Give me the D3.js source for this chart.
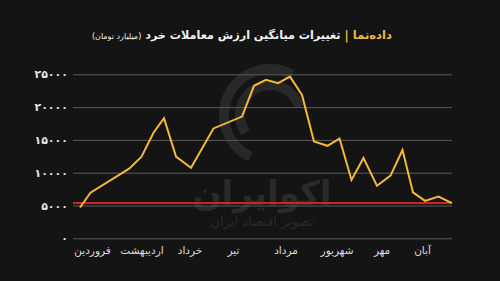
<!DOCTYPE html>
<html>
<head>
<meta charset="utf-8">
<script src="https://cdn.jsdelivr.net/npm/d3@7"></script>
<style>
  html, body { margin: 0; padding: 0; background: #141414; }
  #wrap { position: relative; width: 500px; height: 281px; overflow: hidden; background: #141414; }
  #title { position: absolute; right: 108px; top: 28px; direction: rtl; white-space: nowrap;
           font-family: "DejaVu Sans", sans-serif; font-size: 11.2px; font-weight: bold; color: #f2f2f2; }
  #title .brand { color: #e9b949; font-weight: bold; font-size: 11.6px; }
  #title .unit { font-size: 8px; font-weight: normal; }
</style>
</head>
<body>
<div id="wrap">
  <svg id="chart" width="500" height="281"></svg>
  <div id="title"><span class="brand">داده‌نما | </span>تغییرات میانگین ارزش معاملات خرد <span class="unit">(میلیارد تومان)</span></div>
</div>
<script>
// Data (day index from start of Farvardin, value in billion toman)
const days   = [0, 7, 33, 41, 49, 56, 64, 74, 89, 108, 116, 124, 132, 140, 148, 156, 165, 173, 181, 189, 198, 207, 215, 222, 230, 239, 248];
const values = [4700, 6950, 10650, 12450, 16100, 18300, 12450, 10750, 16750, 18550, 23250, 24150, 23650, 24650, 21850, 14750, 14100, 15200, 8900, 12250, 8000, 9550, 13450, 7000, 5700, 6350, 5350];
const months    = ["فروردین", "اردیبهشت", "خرداد", "تیر", "مرداد", "شهریور", "مهر", "آبان"];
const monthDays = [8, 41, 73, 102, 137, 171, 201, 228];
const yTicks = [0, 5000, 10000, 15000, 20000, 25000];
const refValue = 5400;

const toFa = s => String(s).replace(/\d/g, d => "۰۱۲۳۴۵۶۷۸۹"[d]);

const svg = d3.select("#chart");
const x = d3.scaleLinear().domain([0, 248]).range([80, 452]);
const y = d3.scaleLinear().domain([0, 25000]).range([238.3, 74.3]);
const gridX0 = 73, gridX1 = 452;

// watermark
const wm = svg.append("g").attr("fill", "#2a2a2a").attr("font-family", "DejaVu Sans, sans-serif")
  .attr("text-anchor", "middle");
wm.append("text").attr("x", 262).attr("y", 205).attr("font-size", 34).attr("font-weight", "bold").text("اکوایران");
wm.append("text").attr("x", 262).attr("y", 226).attr("font-size", 13).text("تصویر اقتصاد ایران");
const arc = d3.arc();
const lg = svg.append("g").attr("transform", "translate(270,115)").attr("fill", "none").attr("stroke", "#282828").attr("stroke-width", 10);
lg.append("path").attr("d", arc({innerRadius: 46, outerRadius: 46, startAngle: -2.7, endAngle: 0.5}));
lg.append("path").attr("d", arc({innerRadius: 30, outerRadius: 30, startAngle: -2.2, endAngle: 1.3}));

// y axis (gridlines + labels)
const yAxis = d3.axisLeft(y).tickValues(yTicks).tickSize(-(gridX1 - gridX0)).tickPadding(5)
  .tickFormat(d => toFa(d));
const gy = svg.append("g").attr("transform", `translate(${gridX0},0)`).call(yAxis);
gy.select(".domain").remove();
gy.selectAll(".tick line").attr("stroke", "#5a5a5a").attr("stroke-width", 1);
gy.selectAll(".tick text").attr("fill", "#e6e6e6").attr("font-size", 11).attr("font-weight", "bold")
  .attr("font-family", "DejaVu Sans, sans-serif");

// x axis month labels
const xAxis = d3.axisBottom(x).tickValues(monthDays).tickSize(0).tickPadding(8)
  .tickFormat((d, i) => months[i]);
const gx = svg.append("g").attr("transform", `translate(0,${y(0)})`).call(xAxis);
gx.select(".domain").remove();
gx.selectAll(".tick text").attr("fill", "#dcdcdc").attr("font-size", 10.5)
  .attr("font-family", "DejaVu Sans, sans-serif");

// reference line
svg.append("line").attr("x1", gridX0).attr("x2", gridX1).attr("y1", y(refValue)).attr("y2", y(refValue))
  .attr("stroke", "#c62828").attr("stroke-width", 2);

// main line
const line = d3.line().x((d, i) => x(days[i])).y(d => y(d));
svg.append("path").datum(values).attr("d", line).attr("fill", "none")
  .attr("stroke", "#f3b93c").attr("stroke-width", 2).attr("stroke-linejoin", "miter");
</script>
</body>
</html>
